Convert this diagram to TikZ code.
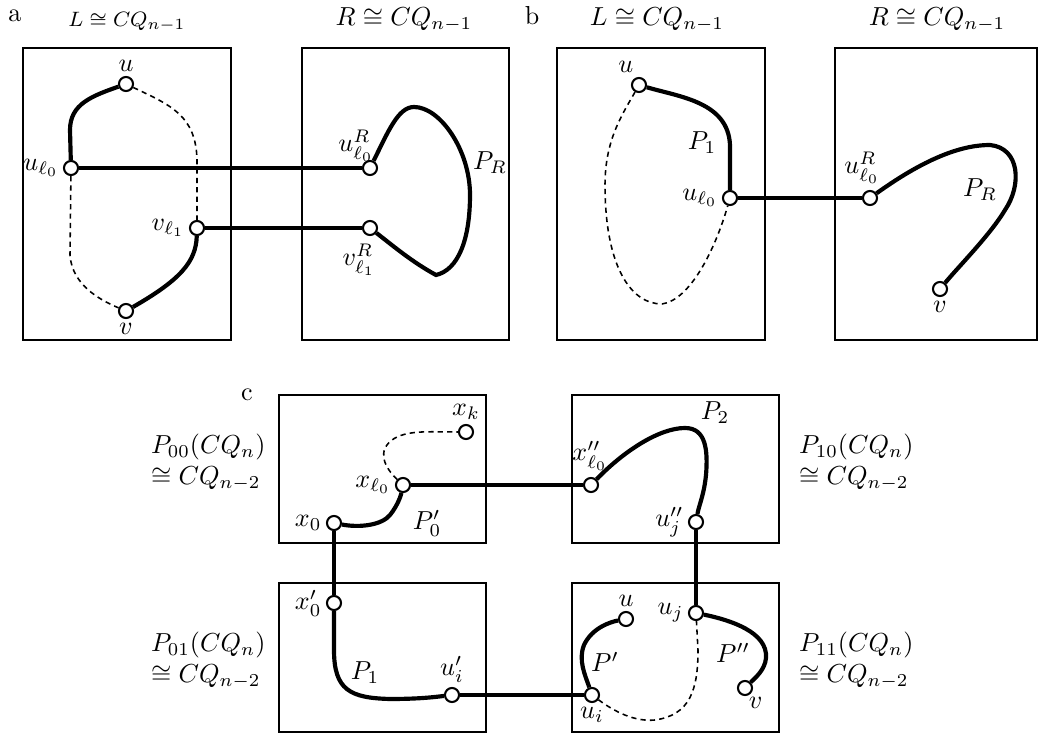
\documentclass[tikz,border=0pt]{standalone}
\usepackage{amsmath,amssymb}
\begin{document}
\begin{tikzpicture}[x=0.0135cm, y=0.0135cm,
    riquadro/.style={line width=0.8pt},
    vtx/.style={circle, draw, fill=white, line width=0.8pt, inner sep=0pt, minimum size=5.4pt},
    tratto/.style={line width=1.6pt},
    tratteggio/.style={dash pattern=on 2pt off 1.6pt, line width=0.6pt},
    every label/.style={inner sep=1.5pt}]
    \useasboundingbox (0,0) rectangle (1039,-735);
    % ---------------- Pannello a ----------------
    \node at (15,-16) {a};
    \node[font=\footnotesize, inner sep=0pt] (aL) at (127,-22) {$L\cong CQ_{n-1}$};
    \node[inner sep=0pt] (aR) at (404,-20) {$R\cong CQ_{n-1}$};
    \draw[riquadro] (23,-48) rectangle (231,-340);
    \draw[riquadro] (302,-48) rectangle (509,-340);
    % Vertici
    \node[vtx, label=above:$u$] (au) at (126,-84) {};
    \node[vtx, label=left:$u_{\ell_0}$] (aul) at (71,-168) {};
    \node[vtx, label=left:$v_{\ell_1}$] (avl) at (197,-228) {};
    \node[vtx, label=below:$v$] (av) at (126,-311) {};
    \node[vtx] (auR) at (370,-168) {};
    \node[vtx] (avR) at (370,-228) {};
    \node (auRl) at (356,-146) {$u^R_{\ell_0}$};
    \node (avRl) at (359,-260) {$v^R_{\ell_1}$};
    % Cammini
    \draw[tratto] (au) .. controls (92,-96) and (70,-104) .. (70,-130) -- (aul);
    \draw[tratteggio] (au) .. controls (170,-105) and (196,-115) .. (197,-160) -- (avl);
    \draw[tratteggio] (aul) -- (70,-255) .. controls (72,-285) and (100,-300) .. (av);
    \draw[tratto] (avl) .. controls (196,-262) and (180,-280) .. (av);
    \draw[tratto] (aul) -- (auR);
    \draw[tratto] (avl) -- (avR);
    \draw[tratto] (auR) .. controls (388,-132) and (398,-107) .. (414,-107)
        .. controls (440,-107) and (470,-150) .. (470,-195)
        .. controls (470,-240) and (458,-270) .. (436,-275)
        .. controls (412,-262) and (392,-245) .. (avR);
    \node (aPR) at (490,-163) {$P_R$};
    % ---------------- Pannello b ----------------
    \node at (532,-16) {b};
    \node[inner sep=0pt] (bL) at (657,-20) {$L\cong CQ_{n-1}$};
    \node[inner sep=0pt] (bR) at (937,-20) {$R\cong CQ_{n-1}$};
    \draw[riquadro] (557,-48) rectangle (765,-340);
    \draw[riquadro] (835,-48) rectangle (1037,-340);
    % Vertici
    \node[vtx, label=100:$u$] (bu) at (639,-85) {};
    \node[vtx, label=left:$u_{\ell_0}$] (bul) at (730,-198) {};
    \node[vtx] (buR) at (870,-198) {};
    \node (buRl) at (862,-168) {$u^R_{\ell_0}$};
    \node[vtx, label=below:$v$] (bv) at (940,-289) {};
    % Cammini
    \draw[tratto] (bu) .. controls (680,-97) and (728,-102) .. (730,-145) -- (bul);
    \draw[tratteggio] (bu) .. controls (622,-115) and (605,-140) .. (605,-185)
        .. controls (605,-265) and (630,-304) .. (662,-304)
        .. controls (690,-300) and (715,-250) .. (bul);
    \draw[tratto] (bul) -- (buR);
    \draw[tratto] (buR) .. controls (930,-155) and (965,-145) .. (990,-145)
        .. controls (1020,-148) and (1022,-185) .. (1005,-210)
        .. controls (990,-235) and (960,-265) .. (bv);
    \node (bP1) at (702,-143) {$P_1$};
    \node (bPR) at (980,-190) {$P_R$};
    % ---------------- Pannello c ----------------
    \node at (247,-395) {c};
    \draw[riquadro] (279,-395) rectangle (486,-543);
    \draw[riquadro] (279,-583) rectangle (486,-732);
    \draw[riquadro] (572,-395) rectangle (779,-543);
    \draw[riquadro] (572,-583) rectangle (779,-732);
    \node[anchor=west, align=left] (c00) at (142,-462) {$P_{00}(CQ_n)$\\$\cong CQ_{n-2}$};
    \node[anchor=west, align=left] (c01) at (142,-660) {$P_{01}(CQ_n)$\\$\cong CQ_{n-2}$};
    \node[anchor=west, align=left] (c10) at (790,-462) {$P_{10}(CQ_n)$\\$\cong CQ_{n-2}$};
    \node[anchor=west, align=left] (c11) at (790,-660) {$P_{11}(CQ_n)$\\$\cong CQ_{n-2}$};
    % Vertici
    \node[vtx, label=above:$x_k$] (cxk) at (466,-432) {};
    \node[vtx, label=left:$x_{\ell_0}$] (cxl) at (403,-485) {};
    \node[vtx, label=left:$x_0$] (cx0) at (334,-523) {};
    \node[vtx, label=left:$x'_0$] (cx0p) at (334,-603) {};
    \node[vtx, label=above:$u'_i$] (cuip) at (452,-695) {};
    \node[vtx, label=below:$u_i$] (cui) at (592,-695) {};
    \node[vtx] (cxlpp) at (591,-485) {};
    \node (cxlppl) at (590,-456) {$x''_{\ell_0}$};
    \node[vtx, label=left:$u''_j$] (cujpp) at (696,-522) {};
    \node[vtx, label=left:$u_j$] (cuj) at (696,-613) {};
    \node[vtx, label=above:$u$] (cu) at (626,-619) {};
    \node[vtx, label={[inner sep=0.5pt]-75:$v$}] (cv) at (745,-688) {};
    % Cammini
    \draw[tratteggio] (cxl) .. controls (385,-468) and (375,-450) .. (395,-438)
        .. controls (410,-430) and (430,-432) .. (cxk);
    \draw[tratto] (cx0) .. controls (360,-528) and (382,-525) .. (390,-515)
        .. controls (398,-505) and (401,-495) .. (cxl);
    \draw[tratto] (cx0) -- (cx0p);
    \draw[tratto] (cxl) -- (cxlpp);
    \draw[tratto] (cx0p) -- (334,-650) .. controls (334,-690) and (350,-698) .. (390,-699)
        .. controls (420,-699) and (435,-697) .. (cuip);
    \draw[tratto] (cuip) -- (cui);
    \draw[tratto] (cxlpp) .. controls (625,-450) and (660,-428) .. (685,-428)
        .. controls (706,-428) and (708,-450) .. (706,-475)
        .. controls (704,-495) and (699,-505) .. (cujpp);
    \draw[tratto] (cujpp) -- (cuj);
    \draw[tratto] (cui) .. controls (585,-675) and (578,-660) .. (584,-645)
        .. controls (592,-628) and (610,-622) .. (cu);
    \draw[tratteggio] (cui) .. controls (615,-712) and (635,-722) .. (655,-720)
        .. controls (690,-715) and (698,-690) .. (698,-650) -- (cuj);
    \draw[tratto] (cuj) .. controls (730,-620) and (768,-632) .. (766,-658)
        .. controls (765,-670) and (755,-678) .. (cv);
    \node (cP0) at (427,-523) {$P'_0$};
    \node (cP1) at (365,-673) {$P_1$};
    \node (cP2) at (715,-413) {$P_2$};
    \node (cPp) at (605,-662) {$P'$};
    \node (cPpp) at (733,-653) {$P''$};
\end{tikzpicture}
\end{document}
